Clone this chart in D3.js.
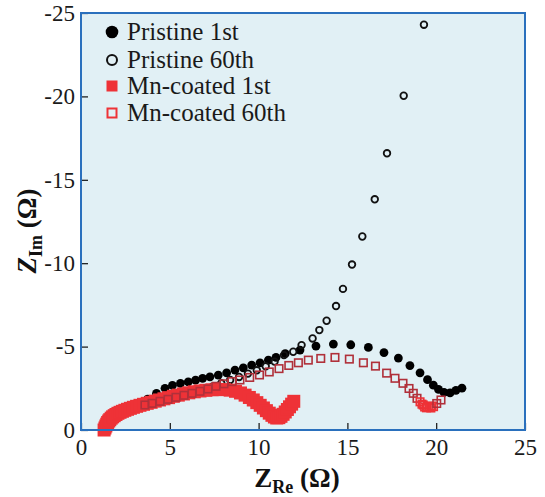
<!DOCTYPE html>
<html>
<head>
<meta charset="utf-8">
<script src="https://cdn.jsdelivr.net/npm/d3@7"></script>
<style>
  body { margin: 0; background: #fff; }
  svg { display: block; }
  svg text { font-family: 'Liberation Serif', 'DejaVu Serif', 'Times New Roman', serif; }
</style>
</head>
<body>
<div id="chart"></div>
<script>
// values, Z_Re and Z_Im in ohm
const pristine1stRe = [1.35, 1.55, 1.8, 2.1, 2.45, 2.85, 3.3, 3.75, 4.25, 4.73, 5.15, 5.6, 6.04, 6.45, 6.85, 7.26, 7.73, 8.2, 8.67, 9.14, 9.61, 10.08, 10.55, 10.98, 11.5, 12.33, 13.23, 14.21, 15.19, 16.18, 17.06, 17.87, 18.52, 19.09, 19.51, 19.84, 20.13, 20.44, 20.78, 21.11, 21.45];
const pristine1stIm = [-0.1, -0.4, -0.7, -0.95, -1.2, -1.42, -1.62, -1.85, -2.2, -2.5, -2.68, -2.8, -2.89, -2.99, -3.1, -3.19, -3.29, -3.43, -3.59, -3.73, -3.89, -4.03, -4.19, -4.35, -4.58, -4.79, -5.03, -5.15, -5.11, -4.95, -4.64, -4.31, -3.86, -3.43, -3.02, -2.69, -2.43, -2.25, -2.22, -2.38, -2.51];

const pristine60thRe = [1.35, 1.6, 1.95, 2.4, 2.9, 3.4, 3.9, 4.4, 4.9, 5.4, 5.9, 6.4, 6.9, 7.4, 7.9, 8.4, 8.9, 9.4, 9.9, 10.4, 10.9, 11.43, 11.95, 12.42, 13.04, 13.42, 13.83, 14.36, 14.75, 15.26, 15.84, 16.54, 17.23, 18.17, 19.31];
const pristine60thIm = [-0.1, -0.4, -0.75, -1.0, -1.25, -1.5, -1.65, -1.8, -1.95, -2.08, -2.2, -2.32, -2.45, -2.6, -2.8, -3.0, -3.18, -3.38, -3.58, -3.82, -4.1, -4.49, -4.69, -5.09, -5.49, -5.99, -6.55, -7.43, -8.46, -9.92, -11.6, -13.83, -16.59, -20.04, -24.3];

const mn1stRe = [1.30, 1.35, 1.40, 1.45, 1.50, 1.56, 1.62, 1.70, 1.78, 1.87, 1.97, 2.08, 2.20, 2.33, 2.47, 2.62, 2.78, 2.95, 3.13, 3.32, 3.52, 3.73, 3.95, 4.18, 4.42, 4.67, 4.93, 5.20, 5.48, 5.77, 6.07, 6.38, 6.70, 7.03, 7.37, 7.72, 8.08, 8.40, 8.70, 8.98, 9.24, 9.48, 9.70, 9.90, 10.09, 10.27, 10.44, 10.60, 10.75, 10.89, 11.02, 11.14, 11.26, 11.38, 11.50, 11.62, 11.74, 11.86, 11.98];
const mn1stIm = [0.00, -0.12, -0.24, -0.35, -0.45, -0.54, -0.62, -0.71, -0.79, -0.86, -0.93, -1.00, -1.06, -1.12, -1.18, -1.24, -1.30, -1.36, -1.42, -1.48, -1.54, -1.60, -1.66, -1.73, -1.80, -1.87, -1.94, -2.02, -2.09, -2.16, -2.23, -2.29, -2.34, -2.38, -2.41, -2.43, -2.42, -2.39, -2.32, -2.22, -2.09, -1.95, -1.80, -1.64, -1.48, -1.32, -1.16, -1.01, -0.88, -0.78, -0.72, -0.74, -0.82, -0.94, -1.08, -1.23, -1.39, -1.55, -1.72];

const mn60thRe = [3.6, 4.0, 4.45, 4.9, 5.35, 5.8, 6.25, 6.7, 7.15, 7.6, 8.05, 8.5, 8.95, 9.5, 10.05, 10.6, 11.15, 11.7, 12.24, 12.8, 13.5, 14.3, 15.11, 15.9, 16.58, 17.21, 17.68, 18.13, 18.47, 18.71, 18.92, 19.09, 19.2, 19.27, 19.35, 19.45, 19.5, 19.6, 19.7, 19.75, 19.85, 20.03, 20.27];
const mn60thIm = [-1.5, -1.6, -1.72, -1.84, -1.96, -2.08, -2.2, -2.32, -2.46, -2.62, -2.77, -2.9, -3.0, -3.15, -3.3, -3.48, -3.68, -3.87, -4.03, -4.19, -4.29, -4.35, -4.25, -4.03, -3.83, -3.41, -3.10, -2.80, -2.49, -2.20, -1.90, -1.69, -1.55, -1.50, -1.38, -1.33, -1.41, -1.35, -1.32, -1.44, -1.40, -1.59, -1.80];

const xTicks = [0, 5, 10, 15, 20, 25];
const yTicks = [0, -5, -10, -15, -20, -25];
const legendLabels = ['Pristine 1st', 'Pristine 60th', 'Mn-coated 1st', 'Mn-coated 60th'];

// chart dimensions
const WIDTH = 545;
const HEIGHT = 497;
const margin = { top: 13, right: 20, bottom: 67, left: 81 };
const FONT = "'Liberation Serif', 'DejaVu Serif', 'Times New Roman', serif";
const FRAME_BLUE = '#2a70bd';
const RED = '#ee3237';
const DARK_RED = '#b0303a';

const svg = d3.select('#chart')
  .append('svg')
  .attr('width', WIDTH)
  .attr('height', HEIGHT)
  .attr('font-family', FONT);

const x = d3.scaleLinear().domain([0, 25]).range([margin.left, WIDTH - margin.right]);
const y = d3.scaleLinear().domain([0, -25]).range([HEIGHT - margin.bottom, margin.top]);

// plot background
svg.append('rect')
  .attr('x', x(0))
  .attr('y', y(-25))
  .attr('width', x(25) - x(0))
  .attr('height', y(0) - y(-25))
  .attr('fill', '#e1f0f5');

// axes, ticks pointing inward
const xAxis = svg.append('g')
  .attr('transform', `translate(0,${y(0)})`)
  .call(d3.axisBottom(x).tickValues(xTicks).tickSizeInner(-7).tickSizeOuter(0).tickPadding(9).tickFormat(d => String(d)));

const yAxis = svg.append('g')
  .attr('transform', `translate(${x(0)},0)`)
  .call(d3.axisLeft(y).tickValues(yTicks).tickSizeInner(-7).tickSizeOuter(0).tickPadding(6).tickFormat(d => String(d)));

[xAxis, yAxis].forEach(g => {
  g.attr('font-family', FONT);
  g.select('.domain').remove();
  g.selectAll('.tick line').attr('stroke', '#111').attr('stroke-width', 1.2);
  g.selectAll('.tick text')
    .attr('fill', '#1a1a1a')
    .attr('font-family', FONT)
    .attr('font-size', 23);
});

// markers
const toPoints = (re, im) => d3.zip(re, im);

svg.append('g')
  .selectAll('circle')
  .data(toPoints(pristine1stRe, pristine1stIm))
  .enter()
  .append('circle')
  .attr('cx', d => x(d[0]))
  .attr('cy', d => y(d[1]))
  .attr('r', 4.4)
  .attr('fill', '#000');

svg.append('g')
  .selectAll('circle')
  .data(toPoints(pristine60thRe, pristine60thIm))
  .enter()
  .append('circle')
  .attr('cx', d => x(d[0]))
  .attr('cy', d => y(d[1]))
  .attr('r', 3.3)
  .attr('fill', 'none')
  .attr('stroke', '#111')
  .attr('stroke-width', 1.8);

const SQ = 13;
svg.append('g')
  .selectAll('rect')
  .data(toPoints(mn1stRe, mn1stIm))
  .enter()
  .append('rect')
  .attr('x', d => x(d[0]) - SQ / 2)
  .attr('y', d => y(d[1]) - SQ / 2)
  .attr('width', SQ)
  .attr('height', SQ)
  .attr('fill', RED);

const OSQ = 7.5;
svg.append('g')
  .selectAll('rect')
  .data(toPoints(mn60thRe, mn60thIm))
  .enter()
  .append('rect')
  .attr('x', d => x(d[0]) - OSQ / 2)
  .attr('y', d => y(d[1]) - OSQ / 2)
  .attr('width', OSQ)
  .attr('height', OSQ)
  .attr('fill', 'none')
  .attr('stroke', d => d[0] > 19 && d[0] < 20 ? RED : DARK_RED)
  .attr('stroke-width', 1.6);

// frame on top
svg.append('rect')
  .attr('x', x(0))
  .attr('y', y(-25))
  .attr('width', x(25) - x(0))
  .attr('height', y(0) - y(-25))
  .attr('fill', 'none')
  .attr('stroke', FRAME_BLUE)
  .attr('stroke-width', 2);

// legend
const legend = svg.append('g').attr('transform', 'translate(112,0)');
const rowBase = [40, 68, 94, 121];
legendLabels.forEach((label, i) => {
  const cy = rowBase[i] - 8;
  if (i === 0) {
    legend.append('circle').attr('cx', 0).attr('cy', cy).attr('r', 6.3).attr('fill', '#000');
  } else if (i === 1) {
    legend.append('circle').attr('cx', 0).attr('cy', cy).attr('r', 5).attr('fill', 'none')
      .attr('stroke', '#111').attr('stroke-width', 2);
  } else if (i === 2) {
    legend.append('rect').attr('x', -5.5).attr('y', cy - 5.5).attr('width', 11).attr('height', 11).attr('fill', RED);
  } else {
    legend.append('rect').attr('x', -4.5).attr('y', cy - 4.5).attr('width', 9).attr('height', 9)
      .attr('fill', 'none').attr('stroke', RED).attr('stroke-width', 2);
  }
  legend.append('text')
    .attr('x', 15)
    .attr('y', rowBase[i])
    .attr('fill', '#1a1a1a')
    .attr('font-size', 25)
    .text(label);
});

// axis titles
const xTitle = svg.append('text')
  .attr('x', 297)
  .attr('y', 487)
  .attr('text-anchor', 'middle')
  .attr('font-weight', 'bold')
  .attr('font-size', 27)
  .attr('fill', '#111');
xTitle.append('tspan').text('Z');
xTitle.append('tspan').attr('dy', 6).attr('font-size', 18).text('Re');
xTitle.append('tspan').attr('dy', -6).text(' (Ω)');

const yTitle = svg.append('text')
  .attr('transform', 'translate(36,231) rotate(-90)')
  .attr('text-anchor', 'middle')
  .attr('font-weight', 'bold')
  .attr('font-size', 27)
  .attr('fill', '#111');
yTitle.append('tspan').attr('font-style', 'italic').text('Z');
yTitle.append('tspan').attr('dy', 6).attr('font-size', 18).text('Im');
yTitle.append('tspan').attr('dy', -6).text(' (Ω)');
</script>
</body>
</html>
